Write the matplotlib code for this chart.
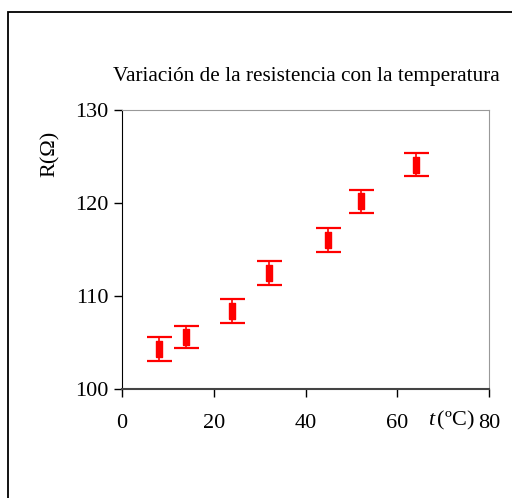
import matplotlib
matplotlib.use("Agg")
import matplotlib.pyplot as plt
from matplotlib.patches import Rectangle

# data
t = [8, 14, 24, 32, 45, 52, 64]
R = [104.3, 105.6, 108.4, 112.5, 116.0, 120.2, 124.1]
R_err = [1.3, 1.2, 1.3, 1.3, 1.3, 1.25, 1.25]
xticks = [0, 20, 40, 60, 80]
yticks = [100, 110, 120, 130]

plt.rcParams['font.family'] = ['Liberation Serif', 'DejaVu Serif']
plt.rcParams['mathtext.fontset'] = 'custom'
plt.rcParams['mathtext.it'] = 'Liberation Serif:italic'
plt.rcParams['mathtext.rm'] = 'Liberation Serif'

fig = plt.figure(figsize=(5.12, 4.98), dpi=100)
# outer chart border (cut off at right and bottom)
fig.patches.append(Rectangle((8/512, -0.05), 1.2, 0.976 + 0.05, transform=fig.transFigure,
                             fill=False, edgecolor='black', linewidth=1.3))

ax = fig.add_axes([122/512, 1-389/498, 367/512, 279/498])
tall = [(-0.45, -1), (0.45, -1), (0.45, 1), (-0.45, 1), (-0.45, -1)]
ax.errorbar(t, R, yerr=R_err, fmt='none', ecolor='red', elinewidth=1.2,
            capsize=9, capthick=1.6)
ax.plot(t, R, ls='none', marker=tall, ms=11, color='red', mec='red')

ax.set_xlim(0, 80)
ax.set_ylim(100, 130)
ax.set_xticks(xticks)
ax.set_yticks(yticks)
ax.tick_params(labelsize=16, direction='out', length=6, width=1, color='black', pad=12)
ax.tick_params(axis='y', pad=4)
ax.spines['top'].set_color('#999999')
ax.spines['right'].set_color('#999999')
ax.spines['left'].set_color('black')
ax.spines['bottom'].set_color('#444444')
ax.spines['bottom'].set_linewidth(1.5)

fig.text(306/512, 1-76/498, 'Variación de la resistencia con la temperatura',
         ha='center', va='center', fontsize=15.3)
fig.text(50/512, 1-154/498, 'R(Ω)', rotation=90, ha='center', va='center', fontsize=16)
fig.text(451/512, 1-420/498, r'$\it{t}\,$(ºC)', ha='center', va='center', fontsize=16)

fig.savefig('out.png', dpi=100)
